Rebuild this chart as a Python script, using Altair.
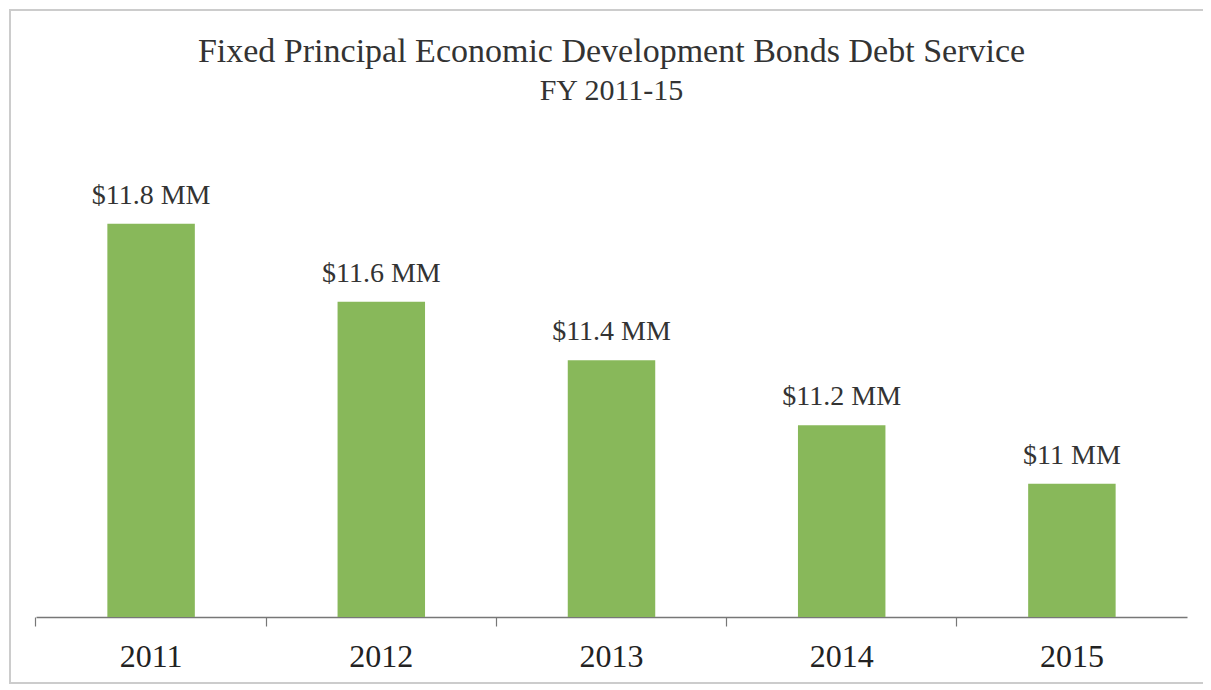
import altair as alt
import pandas as pd

years = ["2011", "2012", "2013", "2014", "2015"]
values = [11.80, 11.56, 11.38, 11.18, 11.00]
labels = ["$11.8 MM", "$11.6 MM", "$11.4 MM", "$11.2 MM", "$11 MM"]

df = pd.DataFrame({"year": years, "value": values, "label": labels})

FONT = "Liberation Serif"

x = alt.X(
    "year:N",
    sort=years,
    title=None,
    scale=alt.Scale(paddingInner=0.62, paddingOuter=0.31),
    axis=alt.Axis(
        labelAngle=0,
        labelFont=FONT,
        labelFontSize=32,
        labelColor="#222222",
        labelPadding=15,
        domainColor="#777777",
        domainWidth=1.5,
        tickColor="#777777",
        tickSize=9,
        tickWidth=1.2,
        bandPosition=-0.816,
        grid=False,
    ),
)
y = alt.Y(
    "value:Q",
    scale=alt.Scale(domain=[10.59, 12.027], zero=False, nice=False),
    axis=None,
)

bars = alt.Chart(df).mark_bar(color="#88B85A", clip=True).encode(x=x, y=y)

text = alt.Chart(df).mark_text(
    font=FONT, fontSize=28, color="#333333", baseline="bottom", dy=-14
).encode(x=x, y=y, text="label:N")

frame = alt.Chart(df).mark_rect(
    fill=None, stroke="#cccccc", strokeWidth=2
).encode(
    x=alt.value(-26), x2=alt.value(1169), y=alt.value(-140), y2=alt.value(533)
)

chart = alt.layer(bars, text, frame).properties(
    width=1151,
    height=467,
    autosize=alt.AutoSizeParams(type="none"),
    padding={"left": 28, "top": 142, "right": 16, "bottom": 72},
    title=alt.TitleParams(
        text="Fixed Principal  Economic Development Bonds Debt Service",
        subtitle="FY 2011-15",
        font=FONT,
        fontSize=34,
        fontWeight="normal",
        color="#333333",
        subtitleFont=FONT,
        subtitleFontSize=30,
        subtitleColor="#333333",
        subtitlePadding=7,
        anchor="middle",
        frame="group",
        offset=-97,
    ),
).configure_view(stroke=None)

chart.save("out.html", embed_options={"renderer": "svg", "actions": False})
